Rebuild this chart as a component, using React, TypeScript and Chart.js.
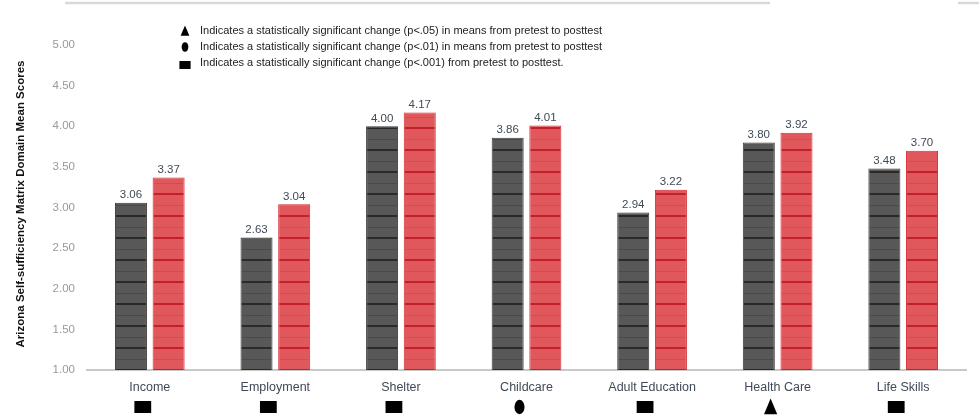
import React, { useEffect, useRef } from "react";
import { Chart, registerables } from "chart.js";

Chart.register(...registerables);

const categories = ["Income", "Employment", "Shelter", "Childcare", "Adult Education", "Health Care", "Life Skills"];
const pretest = [3.06, 2.63, 4.0, 3.86, 2.94, 3.8, 3.48];
const posttest = [3.37, 3.04, 4.17, 4.01, 3.22, 3.92, 3.7];
const significance = ["square", "square", "square", "circle", "square", "triangle", "square"];
const yTicks = [1.0, 1.5, 2.0, 2.5, 3.0, 3.5, 4.0, 4.5, 5.0];
const notes = [
  { symbol: "triangle", text: "Indicates a statistically significant change (p<.05) in means from pretest to posttest" },
  { symbol: "circle", text: "Indicates a statistically significant change (p<.01) in means from pretest to posttest" },
  { symbol: "square", text: "Indicates a statistically significant change (p<.001) from pretest to posttest." },
];
const yTitle = "Arizona Self-sufficiency Matrix Domain Mean Scores";

const FONT = "'Liberation Sans', Arial, sans-serif";

function makePattern(base: string, line: string, faint: string): CanvasPattern | string {
  const c = document.createElement("canvas");
  c.width = 8;
  c.height = 22;
  const g = c.getContext("2d");
  if (!g) return base;
  g.fillStyle = base;
  g.fillRect(0, 0, 8, 22);
  g.fillStyle = faint;
  g.fillRect(0, 7, 8, 1);
  g.fillStyle = line;
  g.fillRect(0, 17, 8, 2);
  const p = g.createPattern(c, "repeat");
  return p || base;
}

function drawSymbol(ctx: CanvasRenderingContext2D, kind: string, x: number, y: number, s: number) {
  ctx.fillStyle = "#000";
  ctx.beginPath();
  if (kind === "square") {
    ctx.rect(x - s * 0.7, y - s * 0.5, s * 1.4, s);
  } else if (kind === "circle") {
    ctx.ellipse(x, y, s * 0.42, s * 0.6, 0, 0, Math.PI * 2);
  } else {
    ctx.moveTo(x, y - s * 0.7);
    ctx.lineTo(x + s * 0.55, y + s * 0.6);
    ctx.lineTo(x - s * 0.55, y + s * 0.6);
    ctx.closePath();
  }
  ctx.fill();
}

const decorPlugin = {
  id: "decor",
  afterDraw(chart: any) {
    const ctx: CanvasRenderingContext2D = chart.ctx;
    const xs = chart.scales.x;
    ctx.save();
    // top rule
    ctx.strokeStyle = "#d9d9d9";
    ctx.lineWidth = 2.5;
    ctx.beginPath();
    ctx.moveTo(65, 3);
    ctx.lineTo(770, 3);
    ctx.moveTo(958, 3);
    ctx.lineTo(979, 3);
    ctx.stroke();
    // notes
    ctx.font = "11px " + FONT;
    ctx.textBaseline = "middle";
    ctx.textAlign = "left";
    notes.forEach((n, i) => {
      const y = 31 + i * 16;
      drawSymbol(ctx, n.symbol, 185, y + (n.symbol === "square" ? 2 : 0), 8);
      ctx.fillStyle = "#222";
      ctx.fillText(n.text, 200, y);
    });
    // significance symbols under categories
    significance.forEach((k, i) => {
      const x = xs.getPixelForValue(i);
      drawSymbol(ctx, k, x - 7, 407, 12);
    });
    // y title
    ctx.translate(21, 204);
    ctx.rotate(-Math.PI / 2);
    ctx.font = "bold 11.5px " + FONT;
    ctx.textAlign = "center";
    ctx.textBaseline = "middle";
    ctx.fillStyle = "#111";
    ctx.fillText(yTitle, 0, 0);
    ctx.restore();
  },
};

const labelPlugin = {
  id: "valueLabels",
  afterDatasetsDraw(chart: any) {
    const ctx: CanvasRenderingContext2D = chart.ctx;
    ctx.save();
    ctx.font = "11.5px " + FONT;
    ctx.fillStyle = "#3f4a55";
    ctx.textAlign = "center";
    ctx.textBaseline = "bottom";
    chart.data.datasets.forEach((ds: any, di: number) => {
      const meta = chart.getDatasetMeta(di);
      meta.data.forEach((bar: any, i: number) => {
        ctx.fillText(Number(ds.data[i]).toFixed(2), bar.x, bar.y - 2);
      });
    });
    ctx.restore();
  },
};

export default function App() {
  const ref = useRef<HTMLCanvasElement>(null);
  useEffect(() => {
    document.body.style.margin = "0";
    const canvas = ref.current;
    if (!canvas) return;
    const darkPat = makePattern("#585858", "#2a2a2a", "#4a4a4a");
    const redPat = makePattern("#e0585c", "#c3212a", "#d64a50");
    const chart = new Chart(canvas, {
      type: "bar",
      data: {
        labels: categories,
        datasets: [
          {
            label: "Pretest",
            data: pretest,
            backgroundColor: darkPat as any,
            borderColor: "#3a3a3a",
            borderWidth: 1,
            barPercentage: 0.85,
            categoryPercentage: 0.6,
          },
          {
            label: "Posttest",
            data: posttest,
            backgroundColor: redPat as any,
            borderColor: "#d42a30",
            borderWidth: 1,
            barPercentage: 0.85,
            categoryPercentage: 0.6,
          },
        ],
      },
      options: {
        animation: false,
        responsive: false,
        devicePixelRatio: 1,
        layout: { padding: { left: 0, right: 13, top: 45, bottom: 0 } },
        plugins: { legend: { display: false }, tooltip: { enabled: false } },
        scales: {
          x: {
            grid: { display: false, drawTicks: false },
            border: { color: "#c8c8c8", width: 2 },
            ticks: { color: "#404a58", font: { family: FONT, size: 12.5 }, padding: 10 },
            afterFit(scale: any) {
              scale.height = 50;
            },
          },
          y: {
            min: 1,
            max: 5,
            afterBuildTicks(scale: any) {
              scale.ticks = yTicks.map((v) => ({ value: v }));
            },
            grid: { display: false, drawTicks: false },
            border: { display: false },
            ticks: {
              color: "#999999",
              font: { family: FONT, size: 11.5 },
              padding: 12,
              callback: (v: any) => Number(v).toFixed(2),
            },
            afterFit(scale: any) {
              scale.width = 87;
            },
          },
        },
      },
      plugins: [decorPlugin, labelPlugin],
    });
    return () => chart.destroy();
  }, []);
  return (
    <div style={{ position: "absolute", left: 0, top: 0, width: 979, height: 420 }}>
      <canvas ref={ref} width={979} height={420} style={{ width: 979, height: 420 }} />
    </div>
  );
}
